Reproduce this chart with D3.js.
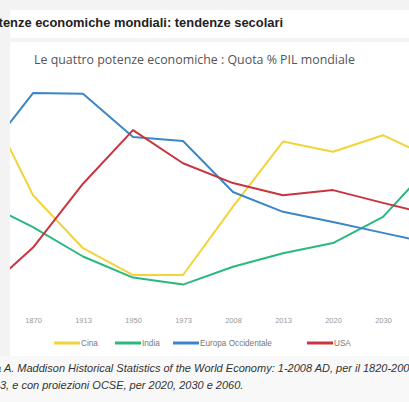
<!DOCTYPE html>
<html><head><meta charset="utf-8">
<script src="https://cdn.jsdelivr.net/npm/d3@7"></script>
<style>
html,body{margin:0;padding:0;background:#f3f3f3;overflow:hidden}
svg{display:block;font-family:"Liberation Sans",Arial,sans-serif}
</style></head>
<body>
<svg id="c" width="409" height="402"></svg>
<script>
const years = ["1820","1870","1913","1950","1973","2008","2013","2020","2030","2060"];
const tickYears = ["1870","1913","1950","1973","2008","2013","2020","2030"];
const cina   = [32.9, 17.1, 8.8, 4.6, 4.6, 15.3, 25.5, 23.9, 26.5, 22.8];
const india  = [16.0, 12.1, 7.5, 4.2, 3.1, 5.9, 8.0, 9.6, 13.7, 22.2];
const europa = [23.0, 33.1, 33.0, 26.2, 25.6, 17.6, 14.5, 12.9, 11.2, 9.5];
const usa    = [1.8, 8.9, 18.9, 27.3, 22.1, 19.0, 17.1, 17.9, 15.9, 14.0];
const seriesNames = ["Cina","India","Europa Occidentale","USA"];
const seriesColors = ["#f2d33a","#2bb87f","#3b86c8","#c8343f"];
const seriesValues = [cina, india, europa, usa];
const titleText = "Potenze economiche mondiali: tendenze secolari";
const subtitleText = "Le quattro potenze economiche : Quota % PIL mondiale";
const source1 = "da A. Maddison Historical Statistics of the World Economy: 1-2008 AD, per il 1820-2008";
const source2 = "3, e con proiezioni OCSE, per 2020, 2030 e 2060.";

const svg = d3.select("#c");
svg.append("rect").attr("width",409).attr("height",402).attr("fill","#f3f3f3");
svg.append("rect").attr("x",0).attr("y",356).attr("width",409).attr("height",46).attr("fill","#f8f8f8");
svg.append("rect").attr("x",10).attr("y",10).attr("width",399).attr("height",28).attr("fill","#ffffff");
svg.append("rect").attr("x",10).attr("y",42).attr("width",399).attr("height",314).attr("fill","#ffffff");

svg.append("text").attr("x",283).attr("y",27).attr("text-anchor","end")
  .attr("font-size",12.9).attr("font-weight","bold").attr("fill","#222").text(titleText);
svg.append("text").attr("x",34).attr("y",64).attr("font-family","Open Sans, sans-serif")
  .attr("font-size",12.4).attr("fill","#555").text(subtitleText);

const x = d3.scalePoint().domain(years).range([-17, 433]);
const y = d3.scaleLinear().domain([0, 35]).range([304.4, 80.9]);

svg.append("clipPath").attr("id","pc")
  .append("rect").attr("x",10).attr("y",42).attr("width",399).attr("height",300);
const plot = svg.append("g").attr("clip-path","url(#pc)");

const line = d3.line().x((d,i)=>x(years[i])).y(d=>y(d));
seriesValues.forEach((vals,k)=>{
  plot.append("path").datum(vals).attr("d",line)
    .attr("fill","none").attr("stroke",seriesColors[k]).attr("stroke-width",2)
    .attr("stroke-linejoin","round");
});

const ax = svg.append("g").attr("transform","translate(0,315)")
  .call(d3.axisBottom(x).tickValues(tickYears).tickSize(0).tickPadding(3));
ax.select(".domain").remove();
ax.selectAll("text").attr("font-size",7.5).attr("fill","#999")
  .attr("font-family","Liberation Sans, Arial, sans-serif");

const legX = [54, 115, 173, 307];
const leg = svg.append("g");
seriesNames.forEach((n,k)=>{
  const g = leg.append("g").attr("transform",`translate(${legX[k]},343)`);
  g.append("line").attr("x1",0).attr("x2",26).attr("y1",0).attr("y2",0)
    .attr("stroke",seriesColors[k]).attr("stroke-width",3);
  g.append("text").attr("x",27).attr("y",3).attr("font-size",8.2).attr("fill","#777").text(n);
});

svg.append("text").attr("x",-11).attr("y",372).attr("font-size",11).attr("font-style","italic")
  .attr("fill","#333").text(source1);
svg.append("text").attr("x",0).attr("y",389).attr("font-size",11).attr("font-style","italic")
  .attr("fill","#333").text(source2);
</script>
</body></html>
